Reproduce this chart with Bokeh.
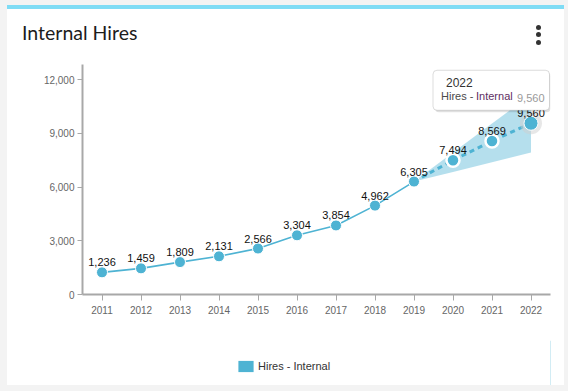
from bokeh.plotting import figure
from bokeh.models import (Range1d, FixedTicker, NumeralTickFormatter, Legend, LegendItem,
                          BoxAnnotation, Label, Div)
from bokeh.layouts import column
from bokeh.core.properties import value
from bokeh.embed import file_html
from bokeh.resources import INLINE

# ---------------- data ----------------
years = [2011, 2012, 2013, 2014, 2015, 2016, 2017, 2018, 2019, 2020, 2021, 2022]
hires = [1236, 1459, 1809, 2131, 2566, 3304, 3854, 4962, 6305, 7494, 8569, 9560]
actual_years = [2011, 2012, 2013, 2014, 2015, 2016, 2017, 2018, 2019]
actual_hires = [1236, 1459, 1809, 2131, 2566, 3304, 3854, 4962, 6305]
forecast_years = [2019, 2020, 2021, 2022]
forecast_hires = [6305, 7494, 8569, 9560]
band_lower = [6305, 6845, 7385, 7926]
band_upper = [6305, 7925, 9545, 11165]
y_ticks = [0, 3000, 6000, 9000, 12000]
series_name = "Hires - Internal"
chart_title = "Internal Hires"

BLUE = "#4eb3d3"
TICK_FONT = "Liberation Sans"
WHITE_BG = {"background-color": "#ffffff"}

# ---------------- header ----------------
header_html = f"""
<div style="position:relative;width:557px;height:48px;box-sizing:border-box;
            border-top:4px solid #7fdcf5;background:#ffffff;">
  <span style="position:absolute;left:15px;top:10px;font-family:Lato,'Open Sans',sans-serif;
               font-size:19.5px;color:#1c1c1c;white-space:nowrap;">{chart_title}</span>
  <span style="position:absolute;left:529px;top:16px;width:5px;height:5px;border-radius:50%;background:#333;"></span>
  <span style="position:absolute;left:529px;top:23px;width:5px;height:5px;border-radius:50%;background:#333;"></span>
  <span style="position:absolute;left:529px;top:31px;width:5px;height:5px;border-radius:50%;background:#333;"></span>
</div>
"""
header = Div(text=header_html, width=557, height=48, margin=(5, 4, 0, 7), styles=WHITE_BG)

# ---------------- main figure ----------------
FRAME_W, FRAME_H = 468, 230
x_lo, x_hi = 2010.5, 2022.5
y_lo, y_hi = 0, 12840

p = figure(width=557, height=287, x_range=Range1d(x_lo, x_hi), y_range=Range1d(y_lo, y_hi),
           output_backend="svg", toolbar_location=None,
           min_border_left=75, min_border_right=14, min_border_top=11, min_border_bottom=46,
           outline_line_color=None, background_fill_color="white", border_fill_color="white",
           margin=(0, 4, 0, 7), styles=WHITE_BG)
p.grid.visible = False

# forecast band
p.varea(x=forecast_years, y1=band_lower, y2=band_upper, fill_color=BLUE, fill_alpha=0.42)

# lines
p.line(actual_years, actual_hires, line_color=BLUE, line_width=1.6)
p.line(forecast_years, forecast_hires, line_color=BLUE, line_width=3, line_dash="5 4")

# markers
p.scatter(actual_years, actual_hires, size=11, fill_color=BLUE, line_color="white", line_width=1)
p.scatter(forecast_years[1:3], forecast_hires[1:3], size=13, fill_color=BLUE,
          line_color="white", line_width=2.5)
p.scatter(forecast_years[3:], forecast_hires[3:], size=22, fill_color="#cfcfcf", fill_alpha=0.5,
          line_color=None)
p.scatter(forecast_years[3:], forecast_hires[3:], size=14, fill_color=BLUE,
          line_color="white", line_width=1)

# data labels
p.text(x=years, y=hires, text=[f"{v:,}" for v in hires], text_align="center",
       text_baseline="bottom", y_offset=-6, text_font=value(TICK_FONT),
       text_font_size="11px", text_color="#111111")

# axes
p.xaxis.ticker = FixedTicker(ticks=years)
p.xaxis.formatter = NumeralTickFormatter(format="0")
p.yaxis.ticker = FixedTicker(ticks=y_ticks)
p.yaxis.formatter = NumeralTickFormatter(format="0,0")
for ax in p.axis:
    ax.axis_line_color = "#a8a8a8"
    ax.axis_line_width = 2
    ax.major_tick_line_color = "#a8a8a8"
    ax.major_tick_line_width = 1
    ax.major_tick_in = 0
    ax.major_tick_out = 5
    ax.minor_tick_line_color = None
    ax.major_label_text_font = TICK_FONT
    ax.major_label_text_font_size = "10px"
    ax.major_label_text_color = "#666666"
p.xaxis.major_tick_out = 6
p.xaxis.major_label_standoff = 5
p.yaxis.major_label_standoff = 3

# tooltip (anchored on last point)
ppx = FRAME_W / (x_hi - x_lo)
ppy = FRAME_H / (y_hi - y_lo)
tx, ty = years[-1], hires[-1]
shadow = BoxAnnotation(left=tx - 96 / ppx, right=tx + 19.5 / ppx, top=ty + 51 / ppy,
                       bottom=ty + 11 / ppy, fill_color="black", fill_alpha=0.12,
                       line_color=None, border_radius=4, level="overlay")
box = BoxAnnotation(left=tx - 98 / ppx, right=tx + 18.5 / ppx, top=ty + 53 / ppy,
                    bottom=ty + 13 / ppy, fill_color="white", fill_alpha=1,
                    line_color="#8c8c8c", line_width=1, border_radius=4, level="overlay")
p.add_layout(shadow)
p.add_layout(box)
p.add_layout(Label(x=tx, y=ty, x_offset=-85, y_offset=36, text=str(years[-1]),
                   text_font=TICK_FONT, text_font_size="12px", text_color="#333333",
                   level="overlay"))
p.add_layout(Label(x=tx, y=ty, x_offset=-90, y_offset=21, text="Hires - ",
                   text_font=TICK_FONT, text_font_size="11px", text_color="#4a4a4a",
                   level="overlay"))
p.add_layout(Label(x=tx, y=ty, x_offset=-55, y_offset=21, text="Internal",
                   text_font=TICK_FONT, text_font_size="11px", text_color="#5e2f63",
                   level="overlay"))
p.add_layout(Label(x=tx, y=ty, x_offset=-14, y_offset=21, text=f"{hires[-1]:,}",
                   text_font=TICK_FONT, text_font_size="11px", text_color="#9a9a9a",
                   level="overlay"))

# ---------------- legend strip ----------------
lg = figure(width=557, height=45, x_range=Range1d(0, 1), y_range=Range1d(0, 1),
            x_axis_type=None, y_axis_type=None, output_backend="svg", toolbar_location=None,
            min_border=0, outline_line_color=None, background_fill_color="white",
            border_fill_color="white", margin=(0, 4, 6, 7), styles=WHITE_BG)
lg.grid.visible = False
# legend proxy for the series (zero-width bar outside this strip's range, so not drawn)
proxy = lg.vbar(x=[years[0]], top=[hires[0]], width=0, fill_color=BLUE, line_color=None)
legend = Legend(items=[LegendItem(label=series_name, renderers=[proxy])],
                location=(154, 12), padding=0, margin=0, spacing=0,
                glyph_width=19, glyph_height=14, label_height=14, label_standoff=3,
                label_text_font=TICK_FONT, label_text_font_size="11px",
                label_text_color="#333333", border_line_color=None,
                background_fill_alpha=0)
lg.add_layout(legend)

layout = column(header, p, lg, spacing=0, styles={"background-color": "#f3f3f3"})
open("out.html", "w").write(file_html(layout, INLINE))
